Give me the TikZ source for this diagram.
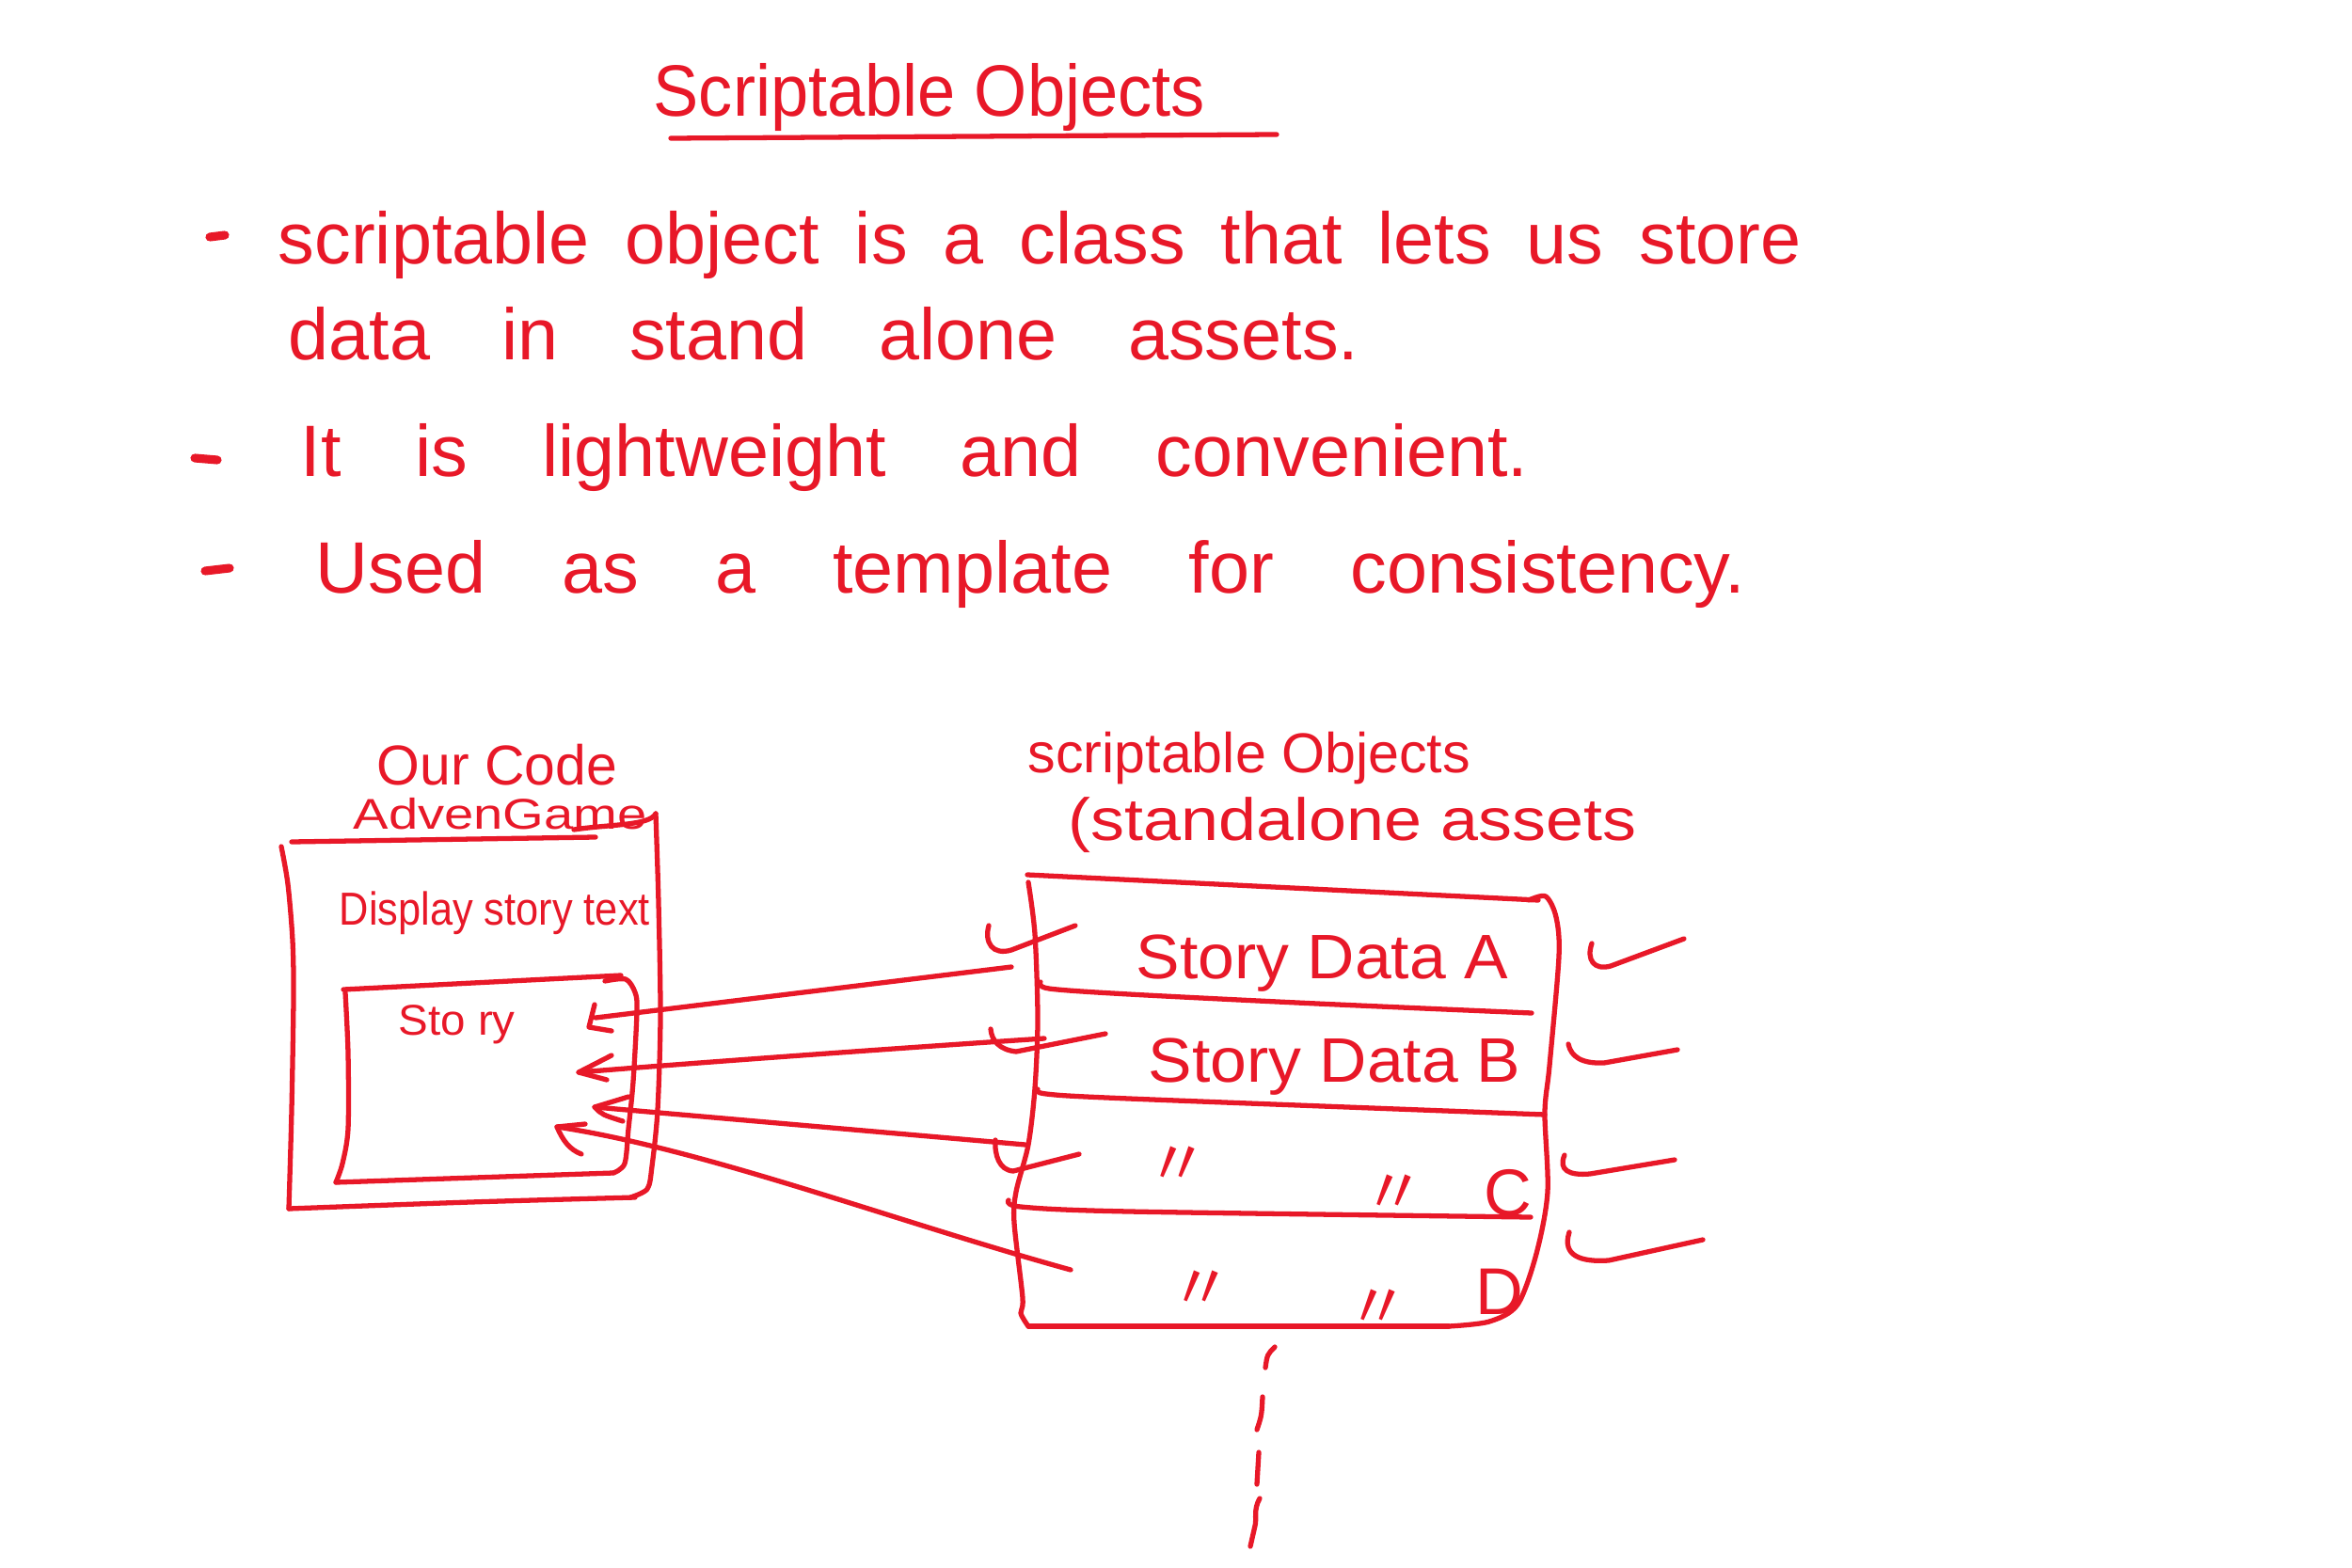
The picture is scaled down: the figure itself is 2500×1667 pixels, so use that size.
\documentclass[tikz,border=0pt]{standalone}
\usepackage{fontspec}
\setmainfont{Liberation Sans}
\newfontfamily\cjkfont{Noto Sans CJK SC}
\usepackage{graphicx}
\definecolor{ink}{RGB}{232,24,40}
\newcommand\fitto[2]{\resizebox{#1cm}{\height}{#2}}
\newcommand\spreadto[2]{\makebox[#1cm][s]{#2}}
\newcommand\fs[1]{\fontsize{#1}{#1}\selectfont}
\begin{document}
\begin{tikzpicture}[x=0.01cm,y=-0.01cm,
  penline/.style={draw=ink,line width=1.5pt,line cap=round,line join=round},
  txt/.style={text=ink,inner sep=0pt,anchor=base west},
  ditto/.style={text=ink,inner sep=0pt,font=\cjkfont\fs{19}},
  bulletdash/.style={draw=ink,line width=2.6pt,line cap=round}]
\fill[white] (0,0) rectangle (2500,1667);
\useasboundingbox (0,0) rectangle (2500,1667);

% ---------- title ----------
\node[txt,font=\fs{22}] (title) at (694,124) {\fitto{5.86}{Scriptable Objects}};
\coordinate (ulL) at (713,147);
\coordinate (ulR) at (1357,143);
\draw[penline] (ulL) -- (ulR);

% ---------- bullets ----------
\draw[bulletdash] (223,252) -- (239,250);
\node[txt,font=\fs{22}] (b1) at (295,281) {\spreadto{16.18}{scriptable object is a class that lets us store}};
\node[txt,font=\fs{22}] (b1b) at (306,383) {\spreadto{11.37}{data in stand alone assets.}};
\draw[bulletdash] (207,487) -- (231,489);
\node[txt,font=\fs{22}] (b2) at (319,507) {\spreadto{13.04}{It is lightweight and convenient.}};
\draw[bulletdash] (218,607) -- (244,604);
\node[txt,font=\fs{22}] (b3) at (335,630) {\spreadto{15.19}{Used as a template for consistency.}};

% ---------- left box: our code ----------
\node[txt,font=\fs{17}] (code) at (400,834) {\fitto{2.55}{Our Code}};
\node[txt,font=\fs{13}] (game) at (375,881) {\fitto{3.12}{AdvenGame}};
\draw[penline] (310,895) -- (633,890);
\draw[penline] (610,882) .. controls (650,876) and (690,878) .. (697,865);
\draw[penline] plot[smooth] coordinates {(697,865) (700,960) (702,1080) (699,1180) (693,1240) (688,1264) (670,1273)};
\draw[penline] plot[smooth] coordinates {(675,1273) (500,1278) (307,1285)};
\draw[penline] plot[smooth] coordinates {(299,900) (306,940) (311,1000) (312,1060) (310,1180) (307,1285)};
\node[txt,font=\fs{14}] (display) at (360,983) {\fitto{3.3}{Display story text}};
% inner box
\draw[penline] (365,1052) -- (660,1037);
\draw[penline] plot[smooth] coordinates {(643,1043) (665,1041) (675,1055) (677,1075) (673,1150) (668,1200) (664,1237) (652,1247)};
\draw[penline] (652,1247) -- (357,1257);
\draw[penline] plot[smooth] coordinates {(367,1055) (370,1120) (370,1200) (364,1237) (357,1257)};
\node[txt,font=\fs{13}] (story) at (423,1100) {\fitto{1.24}{Sto ry}};

% ---------- right box: scriptable objects ----------
\node[txt,font=\fs{17}] (sohead) at (1092,821) {\fitto{4.7}{scriptable Objects}};
\node[txt,font=\fs{18}] (sohead2) at (1135,893) {\fitto{6.03}{(standalone assets}};
\draw[penline] (1092,930) -- (1635,957);
\draw[penline] plot[smooth] coordinates {(1625,957) (1643,953) (1654,975) (1657,1017) (1647,1133) (1642,1183) (1645,1267) (1633,1333) (1613,1387) (1583,1405) (1540,1410)};
\draw[penline] (1540,1410) -- (1093,1410);
\draw[penline] plot[smooth] coordinates {(1093,938) (1100,993) (1103,1083) (1100,1157) (1093,1217) (1080,1267) (1078,1300) (1087,1380) (1085,1396) (1093,1410)};
\draw[penline] plot[smooth] coordinates {(1106,1044) (1115,1051) (1200,1057) (1400,1067) (1628,1077)};
\draw[penline] plot[smooth] coordinates {(1103,1158) (1112,1163) (1200,1168) (1642,1185)};
\draw[penline] plot[smooth] coordinates {(1072,1276) (1085,1283) (1200,1288) (1627,1294)};
\node[txt,font=\fs{19}] (sda) at (1207,1040) {\fitto{3.95}{Story Data A}};
\node[txt,font=\fs{19}] (sdb) at (1220,1150) {\fitto{3.95}{Story Data B}};
\node[ditto] (dc1) at (1252,1240) {〃};
\node[ditto] (dc2) at (1482,1270) {〃};
\node[txt,font=\fs{20}] (lc) at (1577,1292) {C};
\node[ditto] (dd1) at (1277,1372) {〃};
\node[ditto] (dd2) at (1465,1392) {〃};
\node[txt,font=\fs{20}] (ld) at (1568,1397) {D};

% ticks left of right box
\draw[penline] (1051,984) .. controls (1046,1002) and (1055,1016) .. (1075,1010) -- (1143,984);
\draw[penline] (1053,1094) .. controls (1054,1106) and (1062,1116) .. (1080,1118) -- (1175,1099);
\draw[penline] (1058,1212) .. controls (1057,1228) and (1062,1244) .. (1077,1245) -- (1147,1227);
% ticks right of right box
\draw[penline] (1692,1003) .. controls (1686,1020) and (1694,1032) .. (1712,1027) -- (1790,998);
\draw[penline] (1667,1110) .. controls (1670,1124) and (1682,1131) .. (1705,1130) -- (1783,1116);
\draw[penline] (1663,1228) .. controls (1656,1244) and (1668,1250) .. (1690,1248) -- (1780,1233);
\draw[penline] (1668,1310) .. controls (1660,1335) and (1680,1342) .. (1710,1340) -- (1810,1318);

% ---------- arrows from assets to story field ----------
\coordinate (a1s) at (1075,1028); \coordinate (a1e) at (633,1082);
\coordinate (a2s) at (1110,1104); \coordinate (a2e) at (615,1140);
\coordinate (a3s) at (1090,1217); \coordinate (a3e) at (632,1177);
\coordinate (a4s) at (1138,1350); \coordinate (a4e) at (592,1198);
\draw[penline] (a1s) -- (a1e);
\draw[penline] (632,1068) -- (626,1092) -- (650,1096);
\draw[penline] (a2s) .. controls (900,1118) and (700,1133) .. (a2e);
\draw[penline] (650,1122) -- (a2e) -- (645,1148);
\draw[penline] (a3s) -- (a3e);
\draw[penline] (668,1166) -- (a3e) .. controls (640,1185) .. (662,1192);
\draw[penline] (a4s) .. controls (950,1298) and (750,1222) .. (a4e);
\draw[penline] (622,1195) -- (a4e) .. controls (598,1212) and (605,1222) .. (618,1227);

% ---------- dashed continuation ----------
\draw[penline] (1355,1432) .. controls (1347,1440) .. (1345,1454);
\draw[penline] (1342,1485) .. controls (1341,1505) .. (1336,1520);
\draw[penline] (1338,1544) -- (1336,1578);
\draw[penline] (1339,1593) .. controls (1332,1605) and (1336,1615) .. (1334,1622) -- (1329,1644);
\end{tikzpicture}
\end{document}
